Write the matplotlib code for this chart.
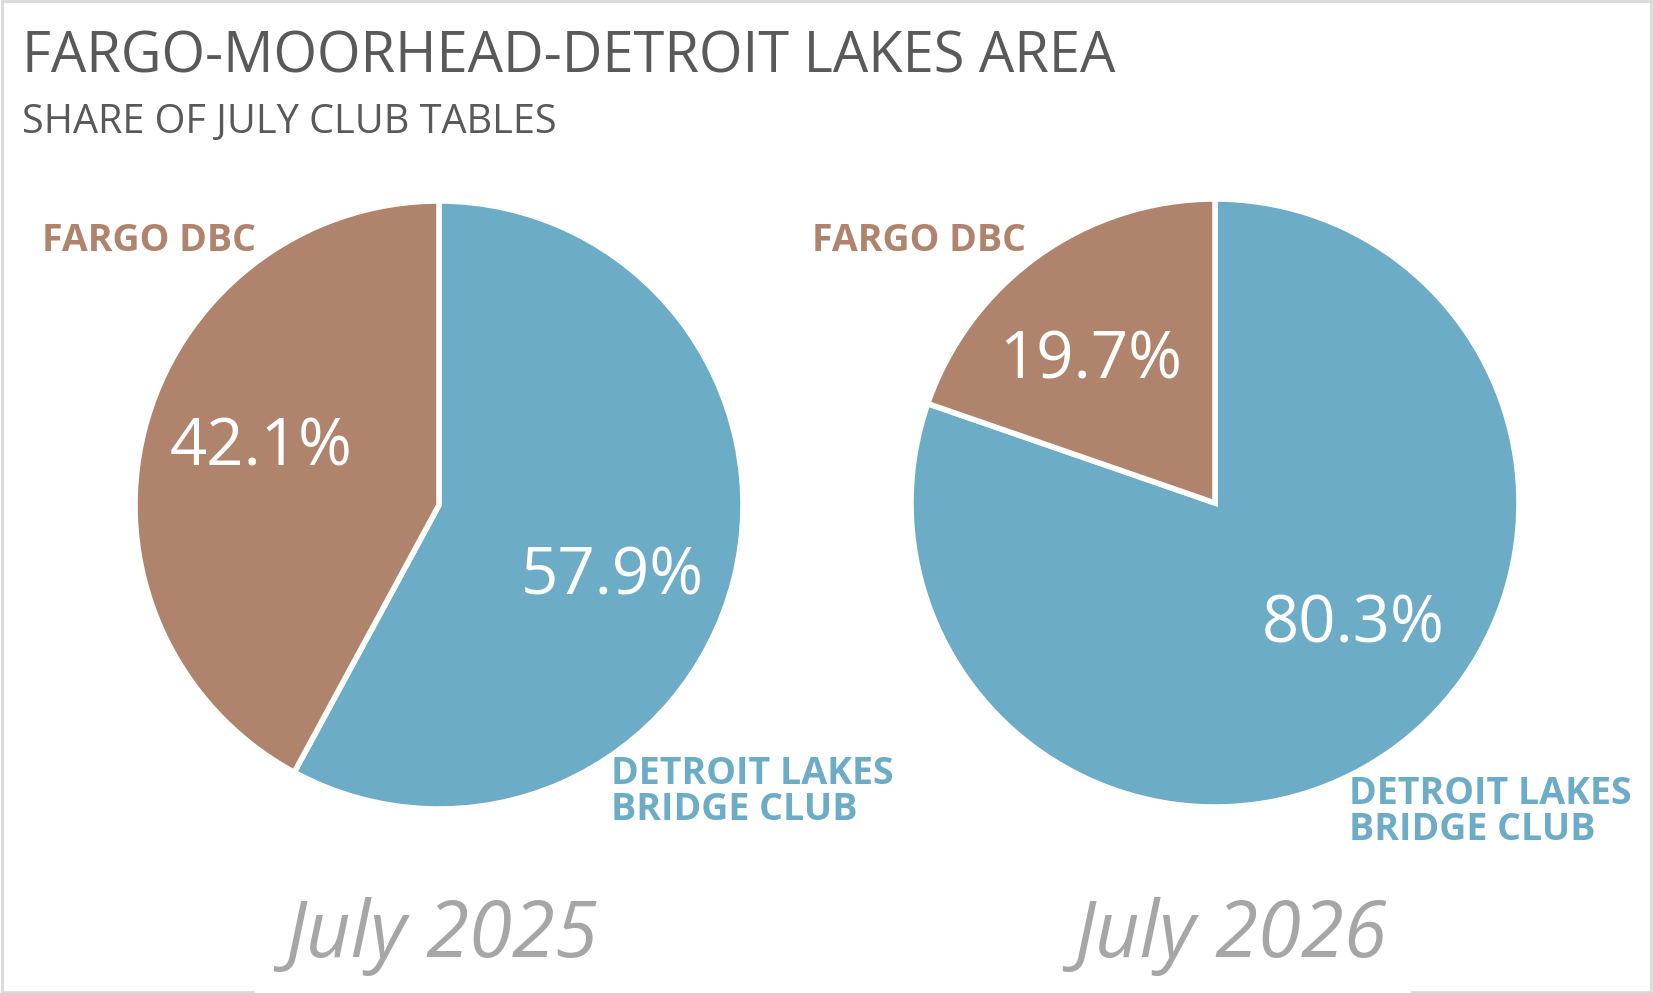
import matplotlib.pyplot as plt
from matplotlib.lines import Line2D

# ---------------- DADOS ----------------
clubs = ["FARGO DBC", "DETROIT LAKES\nBRIDGE CLUB"]
share_2025 = [42.1, 57.9]
share_2026 = [19.7, 80.3]
periods = ["July 2025", "July 2026"]

title = "FARGO-MOORHEAD-DETROIT LAKES AREA"
subtitle = "SHARE OF JULY CLUB TABLES"

cores = {"FARGO DBC": "#B0846C", "DETROIT LAKES\nBRIDGE CLUB": "#6CACC6"}

W, H = 1653, 993
fig = plt.figure(figsize=(W / 100, H / 100), dpi=100)
plt.rcParams['font.family'] = ['Open Sans', 'DejaVu Sans']


def px(x, y):
    # pixel (from top-left) -> figure fraction
    return x / W, 1 - y / H


# centro e raio de cada pizza (px)
pies = [
    {"vals": share_2025, "cx": 439, "cy": 505, "r": 304,
     "pct_pos": [(-0.585, 0.185), (0.571, -0.240)],
     "lab_pos": [(42, 241), (611, 792)], "per_x": 442},
    {"vals": share_2026, "cx": 1215, "cy": 503, "r": 304,
     "pct_pos": [(-0.408, 0.467), (0.456, -0.404)],
     "lab_pos": [(812, 241), (1349, 812)], "per_x": 1231},
]

for i, p in enumerate(pies):
    r = p["r"]
    ax = fig.add_axes([(p["cx"] - r) / W, (H - p["cy"] - r) / H, 2 * r / W, 2 * r / H])
    # Detroit primeiro, sentido horario a partir do topo
    vals = [p["vals"][1], p["vals"][0]]
    cols = [cores[clubs[1]], cores[clubs[0]]]
    wedges, texts, autotexts = ax.pie(
        vals, colors=cols, startangle=90, counterclock=False,
        autopct="%.1f%%", radius=1,
        wedgeprops=dict(edgecolor="white", linewidth=4),
        textprops=dict(color="white", fontsize=47),
    )
    # posicoes dos rotulos como no Excel
    autotexts[1].set_position(p["pct_pos"][0])
    autotexts[0].set_position(p["pct_pos"][1])
    ax.set_xlim(-1, 1)
    ax.set_ylim(-1, 1)
    ax.set_aspect("equal")
    ax.axis("off")

    for j, club in enumerate(clubs):
        lx, ly = p["lab_pos"][j]
        fig.text(*px(lx, ly), club, color=cores[club], fontsize=27,
                 fontweight="bold", ha="left", va="center", linespacing=0.9)

    fig.text(*px(p["per_x"], 936), periods[i], color="#A6A6A6", fontsize=56,
             style="italic", ha="center", va="center")

# ---------------- TITULOS ----------------
fig.text(*px(22, 58), title, color="#595959", fontsize=40.3, ha="left", va="center")
fig.text(*px(22, 123), subtitle, color="#595959", fontsize=28.5, ha="left", va="center")

# ---------------- MOLDURA ----------------
borda = dict(color="#D9D9D9", linewidth=2, transform=fig.transFigure)
fig.add_artist(Line2D([0.001, 0.999], [0.999, 0.999], **borda))
fig.add_artist(Line2D([0.001, 0.001], [0.001, 0.999], **borda))
fig.add_artist(Line2D([0.999, 0.999], [0.001, 0.999], **borda))
fig.add_artist(Line2D([0.001, 253 / W], [0.001, 0.001], **borda))
fig.add_artist(Line2D([1412 / W, 0.999], [0.001, 0.001], **borda))

fig.savefig("out.png", dpi=100, facecolor="white")
plt.close()
